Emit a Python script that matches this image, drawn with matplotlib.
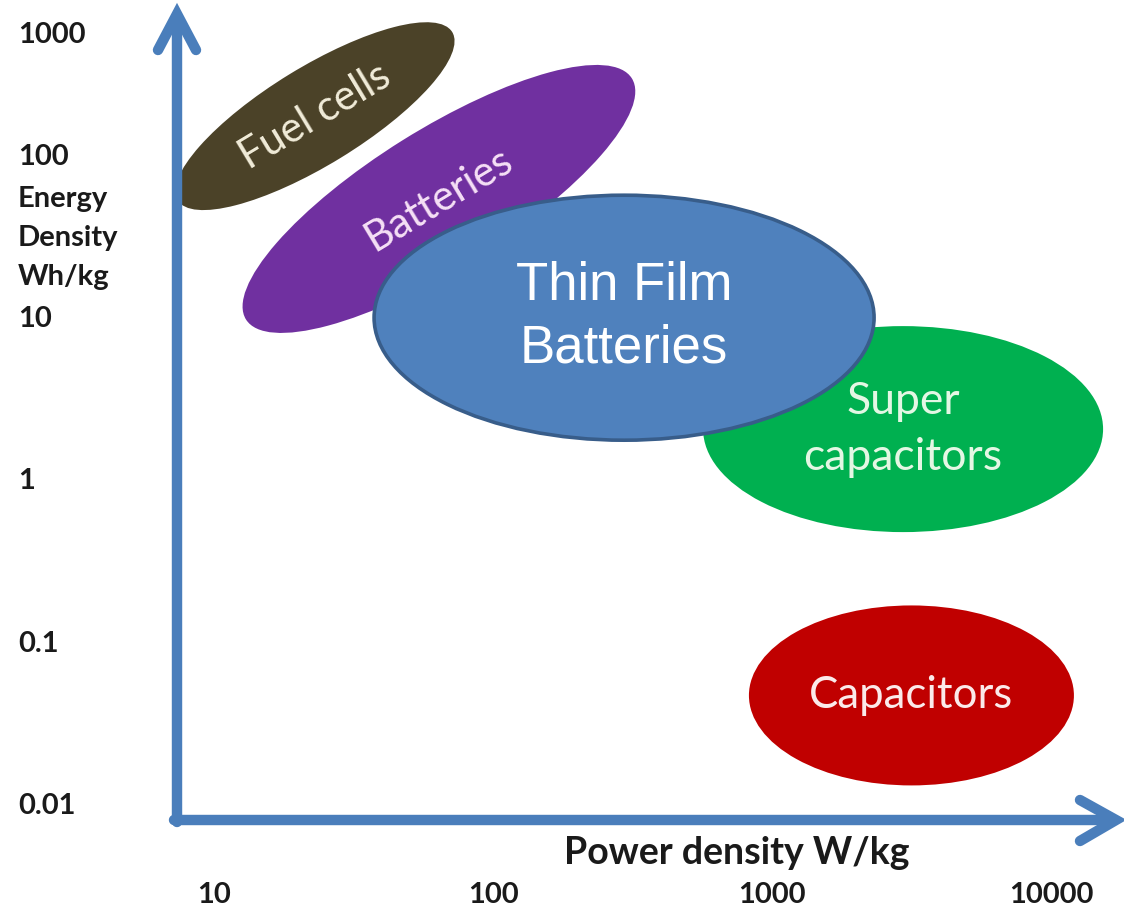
import numpy as np
import matplotlib
matplotlib.use("Agg")
import matplotlib.pyplot as plt
from matplotlib.patches import Ellipse
from matplotlib import transforms

# Ragone chart: centre of each technology's region (power W/kg, energy Wh/kg)
technologies = ["Fuel cells", "Batteries", "Super\ncapacitors", "Capacitors",
                "Thin Film\nBatteries"]
power_density = [23, 64, 2950, 3160, 295]
energy_density = [178, 55, 2.1, 0.048, 10.2]

power_ticks = [10, 100, 1000, 10000]
energy_ticks = [1000, 100, 10, 1, 0.1, 0.01]

x_title = "Power density W/kg"
y_title = "Energy\nDensity\nWh/kg"

# Appearance of each region: size in pixels, tilt, colours, label font
styles = [
    dict(w=322, h=98, angle=31.5, fc="#4b4228", ec="none", lw=0,
         tc="#f1ecd9", rot=31, family="Lato", size=30, ls=1.2),
    dict(w=455, h=138, angle=32, fc="#7030a0", ec="none", lw=0,
         tc="#f6e0f6", rot=31, family="Lato", size=30, ls=1.2),
    dict(w=400, h=206, angle=0, fc="#00b050", ec="none", lw=0,
         tc="#e4f7e4", rot=0, family="Lato", size=32, ls=1.45),
    dict(w=325, h=180, angle=0, fc="#c00000", ec="none", lw=0,
         tc="#fbeaea", rot=0, family="Lato", size=31.5, ls=1.2),
    dict(w=500, h=245, angle=0, fc="#4f81bd", ec="#385d8a", lw=2.6,
         tc="white", rot=0, family="Liberation Sans", size=38, ls=1.32),
]

DPI = 100
W, H = 1124, 923
fig = plt.figure(figsize=(W / DPI, H / DPI), dpi=DPI)
ax = fig.add_axes([0, 0, 1, 1])
# linear axes in decades: log10(W/kg) horizontally, log10(Wh/kg) vertically
ax.set_xlim(0.2330, 4.2616)
ax.set_ylim(-2.7209, 2.9661)
ax.axis("off")

for name, p, e, st in zip(technologies, power_density, energy_density, styles):
    x, y = np.log10(p), np.log10(e)
    trans = fig.dpi_scale_trans + transforms.ScaledTranslation(x, y, ax.transData)
    ax.add_patch(Ellipse((0, 0), st["w"] / DPI, st["h"] / DPI, angle=st["angle"],
                         facecolor=st["fc"], edgecolor=st["ec"], linewidth=st["lw"],
                         transform=trans, zorder=2))
    ax.text(x, y, name, color=st["tc"], rotation=st["rot"], rotation_mode="anchor",
            ha="center", va="center", family=st["family"], fontsize=st["size"],
            linespacing=st["ls"], zorder=3)

# axis arrows (open chevron heads)
blue = "#4a7ebb"
for xs, ys in [((177, 177), (822, 16)), ((158, 177, 196), (50, 14, 50)),
               ((174, 1114), (820, 820)), ((1080, 1116, 1080), (800, 820, 841))]:
    ax.plot([v / W for v in xs], [1 - v / H for v in ys], color=blue, lw=7.5,
            solid_capstyle="round", solid_joinstyle="miter",
            transform=ax.transAxes, zorder=4)

# tick labels
bold = dict(family="Lato", fontweight="bold", color="#1a1a1a")
for v in power_ticks:
    ax.text(np.log10(v), 0.030, f"{v:g}", transform=ax.get_xaxis_transform(),
            ha="center", va="center", fontsize=21, **bold)
y_top = 2.75
for v in energy_ticks:
    ax.text(0.016, min(np.log10(v), y_top), f"{v:g}",
            transform=ax.get_yaxis_transform(), ha="left", va="center",
            fontsize=21, **bold)

ax.text(0.016, 1 - 238 / H, y_title, transform=ax.transAxes, ha="left",
        va="center", fontsize=21, linespacing=1.62, **bold)
ax.text(737 / W, 1 - 853 / H, x_title, transform=ax.transAxes, ha="center",
        va="center", fontsize=27, **bold)

fig.savefig("out.png", dpi=DPI, facecolor="white")
